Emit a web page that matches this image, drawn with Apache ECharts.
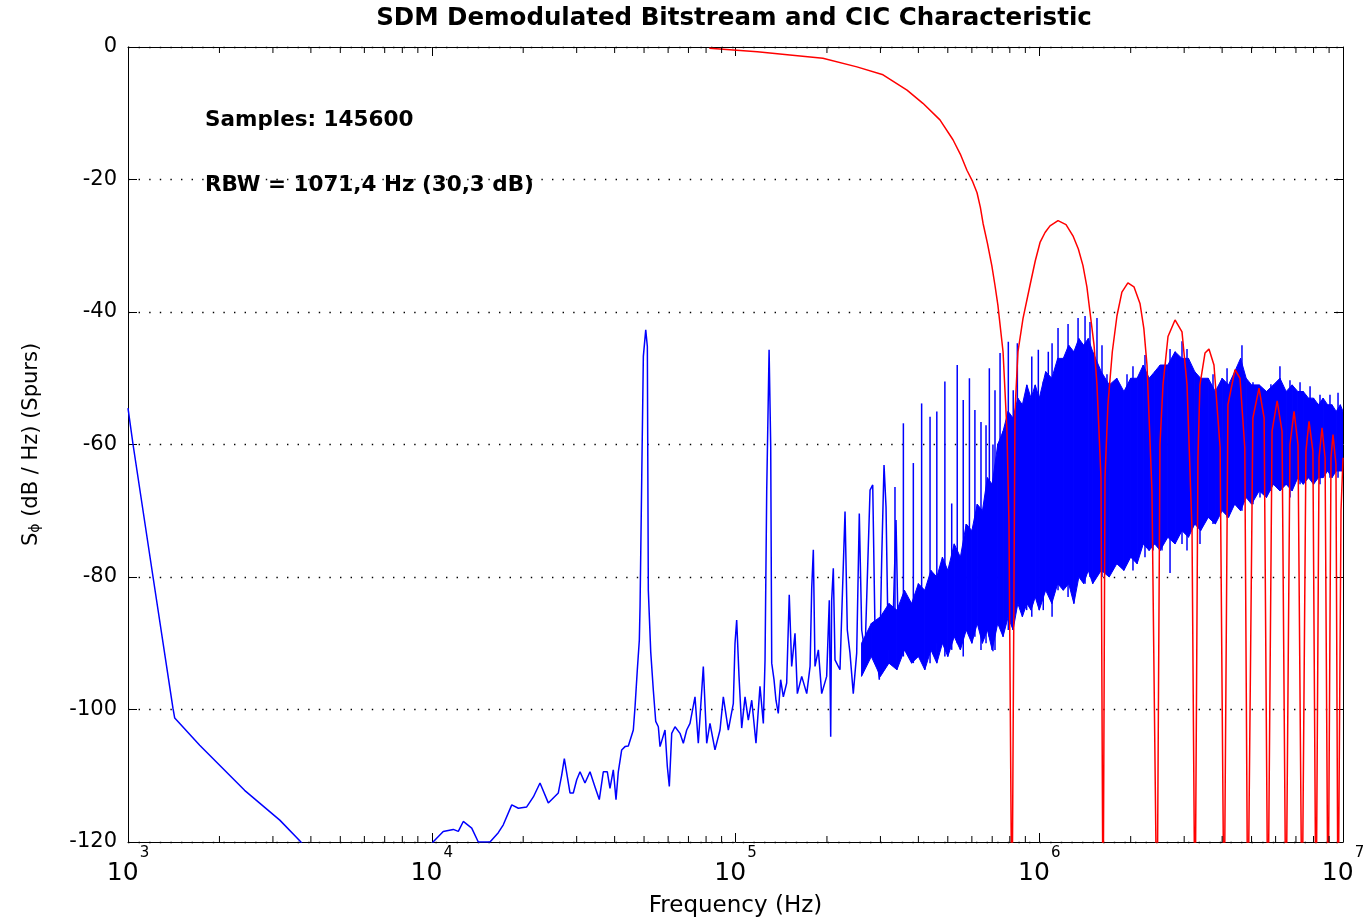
<!DOCTYPE html>
<html><head><meta charset="utf-8">
<script src="https://cdn.jsdelivr.net/npm/echarts@6/dist/echarts.min.js"></script>
<style>html,body{margin:0;padding:0;background:#fff}#c{width:1363px;height:922px}</style>
</head><body><div id="c"></div><script>
// ---- tick labels ----
const xTickValues = [1e3, 1e4, 1e5, 1e6, 1e7];
const xTickExponents = ['3', '4', '5', '6', '7'];
const yTickValues = [-120, -100, -80, -60, -40, -20, 0];
const xMinorTicks = [2e3,3e3,4e3,5e3,6e3,7e3,8e3,9e3,2e4,3e4,4e4,5e4,6e4,7e4,8e4,9e4,
  2e5,3e5,4e5,5e5,6e5,7e5,8e5,9e5,2e6,3e6,4e6,5e6,6e6,7e6,8e6,9e6];
const titleText = 'SDM Demodulated Bitstream and CIC Characteristic';
const noteSamples = 'Samples: 145600';
const noteRBW = 'RBW = 1071,4 Hz (30,3 dB)';

// ---- blue spectrum (sparse part) [Hz, dB] ----
const spectrumLine = [
[1000,-54.5],[1039,-60],[1209,-80],[1406,-99.8],[1425,-101.3],[1722,-105.4],[2420,-112.2],[3160,-116.7],[3710,-120],[4500,-127],[9000,-126],[10100,-120],
[10910,-118.4],[11770,-118.1],[12230,-118.4],[12700,-116.9],[13540,-117.9],[14230,-120],[15550,-120],[16560,-118.6],[17200,-117.4],[18340,-114.4],[19280,-114.9],[20540,-114.7],[21600,-113.2],[22720,-111.1],[24190,-114.1],[26100,-112.6],[26780,-109.9],[27320,-107.4],[27820,-109.6],[28520,-112.6],[29240,-112.6],[30010,-110.6],[30770,-109.4],[31950,-111.1],[33190,-109.4],[34470,-111.7],[35610,-113.6],[36710,-109.4],[37840,-109.4],[38620,-111.9],[39600,-109.1],[40420,-113.6],[41130,-109.4],[42200,-106.1],[43280,-105.6],[44380,-105.5],[46090,-103.1],[46690,-99.6],[47510,-94],[48240,-89.5],[48500,-84.5],[49130,-64.9],[49730,-46.7],[50640,-42.7],[51260,-45.2],[51640,-82],[52590,-91.3],[53640,-97.1],[54620,-101.8],[55710,-102.6],[56430,-105.6],[58610,-103.1],[59640,-108.6],[60550,-111.6],[61660,-103.6],[63220,-102.6],[65660,-103.6],[67330,-105.1],[69080,-103.1],[70830,-102.1],[73570,-98.1],[75430,-105.1],[78350,-93.5],[80390,-105.1],[82410,-102.1],[85600,-106.1],[88920,-103.1],[91180,-98.1],[94700,-103.1],[98350,-99.1],[99630,-90],[100900,-86.5],[102700,-95],[104800,-102.8],[107500,-98.1],[110200,-101.6],[113100,-98.6],[116800,-105.1],[120400,-96.5],[123500,-102.1],[125100,-92.5],[126700,-66.9],[129000,-45.7],[130600,-60.3],[131600,-93],[133900,-95.5],[135900,-98.6],[138300,-100.6],[140800,-95.5],[143700,-98.1],[147400,-96],[150300,-82.7],[153100,-93.5],[157000,-88.5],[159800,-97.6],[165200,-95],[171600,-97.6],[176000,-93.5],[178200,-81.7],[180400,-75.9],[182700,-93.5],[187400,-91],[192200,-97.6],[199600,-95],[203600,-83.5],[205800,-104.1],[207300,-83.5],[209900,-78.7],[212600,-92.5],[220800,-94],[229400,-70.1],[233400,-88],[238200,-91.5],[244200,-97.6],[250600,-91.5],[255600,-70.4],[260300,-88],[266900,-91.5],[277300,-66.9],[283000,-66.1],[288000,-88.5],[297500,-95.5],[302900,-77.4],[308300,-63.1],[313000,-69.4],[318400,-91],[330700,-85.5],[337600,-71.4],[343600,-89.5]
];

// ---- blue spectrum dense noise band [Hz, low dB, high dB] ----
const spectrumBand = [
[2.6e5,-95,-90],[2.8e5,-92,-87],[3.0e5,-95,-86],[3.2e5,-93,-84],[3.4e5,-94,-85],[3.6e5,-91,-82],[3.8e5,-93,-84],[4.0e5,-92,-81],[4.2e5,-94,-82],[4.4e5,-91,-79],[4.6e5,-93,-80],[4.8e5,-90,-77],[5.0e5,-92,-79],[5.25e5,-89,-75],[5.5e5,-91,-77],[5.75e5,-88,-72],[6.0e5,-90,-73],[6.25e5,-87,-69],[6.5e5,-90,-70],[6.75e5,-88,-65],[7.0e5,-91,-66],[7.3e5,-87,-60],[7.6e5,-89,-58],[7.9e5,-86,-55],[8.2e5,-88,-56],[8.5e5,-84,-53],[8.8e5,-86,-54],[9.1e5,-84,-51],[9.4e5,-85,-53],[9.7e5,-83,-51],
[1.0e6,-85,-53],[1.05e6,-82,-49],[1.1e6,-84,-50],[1.15e6,-81,-47],[1.2e6,-82,-47],[1.25e6,-81,-45],[1.3e6,-84,-46],[1.35e6,-80,-44],[1.4e6,-81,-45],[1.45e6,-79,-44],[1.5e6,-81,-46],[1.6e6,-79,-49],[1.7e6,-80,-51],[1.8e6,-78,-50],[1.9e6,-79,-52],[2.0e6,-77,-50],[2.1e6,-78,-50],[2.2e6,-75,-48],[2.3e6,-76,-50],[2.4e6,-75,-49],[2.5e6,-76,-48],[2.65e6,-74,-48],[2.8e6,-75,-46],[2.95e6,-73,-47],[3.1e6,-74,-47],[3.25e6,-72,-49],[3.4e6,-73,-50],[3.6e6,-71,-50],[3.8e6,-72,-52],[4.0e6,-70,-50],[4.2e6,-71,-51],[4.4e6,-69,-49],[4.6e6,-70,-47],[4.8e6,-68,-50],[5.0e6,-69,-51],[5.3e6,-67,-51],[5.6e6,-68,-52],[5.9e6,-66,-51],[6.2e6,-67,-50],[6.5e6,-66,-52],[6.8e6,-67,-51],[7.1e6,-65,-52],[7.4e6,-66,-52],[7.7e6,-65,-53],[8.0e6,-66,-53],[8.3e6,-65,-54],[8.6e6,-65,-53],[8.9e6,-64,-54],[9.2e6,-65,-54],[9.5e6,-64,-55],[9.8e6,-64,-54],[1.0e7,-64,-55]
];

// ---- blue spurs inside the dense region [Hz, top dB, bottom dB] ----
const spectrumSpurs = [
[3.35e5,-66.4,-93],[3.57e5,-56.8,-92],[3.85e5,-62.8,-93],[4.10e5,-53.8,-91],[4.37e5,-55.8,-93],[4.60e5,-55.0,-90],[4.89e5,-50.5,-92],[5.15e5,-68.9,-91],[5.37e5,-48.0,-90],[5.62e5,-53.3,-92],[5.89e5,-50.0,-88],[6.14e5,-54.8,-89],[6.43e5,-56.6,-91],[6.68e5,-57.1,-90],[6.85e5,-48.5,-89],[7.04e5,-60,-91.2],[7.15e5,-51.8,-91],[7.43e5,-46.2,-87],[7.91e5,-44.5,-88],[8.21e5,-51.8,-86],[8.47e5,-44.7,-84],[9.09e5,-51.3,-85],[9.45e5,-46.7,-86],[9.93e5,-45.7,-84],[1.031e6,-50.5,-85],[1.071e6,-46,-81],[1.102e6,-44.7,-86],[1.153e6,-42.4,-82],[1.244e6,-41.8,-83],[1.342e6,-40.9,-80],[1.415e6,-40.6,-81],[1.469e6,-41.5,-80],[1.549e6,-40.9,-79],[1.609e6,-45,-80],[1.671e6,-49.4,-79],[1.803e6,-50.6,-78],[1.945e6,-49.4,-77],[2.035e6,-48.2,-79],[2.229e6,-46.5,-77],[2.369e6,-49.4,-76],[2.536e6,-48.2,-76],[2.695e6,-45.6,-79.4],[2.951e6,-44.4,-75],[3.065e6,-45.6,-76],[3.382e6,-50,-75],[3.733e6,-49.4,-72],[4.152e6,-48.5,-71],[4.649e6,-45,-70],[5.054e6,-50.6,-69],[5.33e6,-51.2,-68],[5.79e6,-50.9,-67],[6.20e6,-48.2,-67],[6.69e6,-50.3,-68],[7.22e6,-50.6,-66],[7.79e6,-51.2,-65],[8.40e6,-52.5,-66],[9.06e6,-52.5,-65],[9.63e6,-52.2,-65]
];

// ---- red CIC characteristic [Hz, dB] ----
const cicResponse = [
[8.2e4,-0.2],[1.18e5,-0.7],[1.51e5,-1.2],[1.94e5,-1.7],[2.51e5,-3.0],[3.06e5,-4.2],[3.67e5,-6.5],[4.14e5,-8.5],[4.71e5,-11],[5.2e5,-14],[5.5e5,-16.2],[5.78e5,-18.6],[6.02e5,-20.2],[6.24e5,-22],[6.4e5,-24.2],[6.53e5,-26.6],[6.75e5,-29.6],[6.98e5,-33],[7.15e5,-36],[7.31e5,-39],[7.6e5,-46],[7.83e5,-58],[7.95e5,-72],[8.13e5,-135],
[8.32e5,-55],[8.51e5,-46],[8.84e5,-41],[9.32e5,-36],[9.7e5,-32.3],[1.006e6,-29.5],[1.045e6,-28],[1.085e6,-27],[1.153e6,-26.2],[1.225e6,-26.8],[1.291e6,-28.5],[1.345e6,-30.5],[1.393e6,-33],[1.435e6,-36.2],[1.469e6,-40],[1.515e6,-45],[1.549e6,-51],[1.597e6,-65],[1.622e6,-135],
[1.646e6,-65],[1.683e6,-54],[1.74e6,-46],[1.802e6,-40.6],[1.871e6,-37],[1.958e6,-35.6],[2.05e6,-36.2],[2.146e6,-38.7],[2.21e6,-42.5],[2.263e6,-48],[2.35e6,-67],[2.442e6,-135],
[2.497e6,-60],[2.555e6,-51],[2.654e6,-43.7],[2.799e6,-41.2],[2.951e6,-43],[3.066e6,-51],[3.184e6,-73],[3.257e6,-135],
[3.33e6,-62],[3.38e6,-51],[3.513e6,-46.2],[3.62e6,-45.6],[3.76e6,-48],[3.94e6,-60.5],[4.06e6,-135],
[4.18e6,-54],[4.41e6,-48.7],[4.58e6,-50],[4.75e6,-60.5],[4.86e6,-135],
[5.05e6,-56],[5.29e6,-51.5],[5.5e6,-56],[5.66e6,-135],
[5.84e6,-58],[6.07e6,-53.4],[6.3e6,-58],[6.49e6,-135],
[6.69e6,-60],[6.9e6,-55],[7.11e6,-60],[7.33e6,-135],
[7.55e6,-61],[7.73e6,-56.5],[7.96e6,-61],[8.15e6,-135],
[8.34e6,-62],[8.53e6,-57.5],[8.73e6,-62],[8.93e6,-135],
[9.13e6,-62],[9.27e6,-58.5],[9.48e6,-63],[9.63e6,-135],
[9.85e6,-70],[1e7,-62]
];

const BLUE = '#0000ff', RED = '#ff0000';
const FONT = '"DejaVu Sans", "Liberation Sans", Arial, sans-serif';

const chart = echarts.init(document.getElementById('c'), null, {renderer: 'canvas'});

function xLabel(v) {
  const i = xTickValues.findIndex(t => Math.abs(Math.log10(t) - Math.log10(v)) < 1e-6);
  if (i < 0) return '';
  return '{b|10}{s|' + xTickExponents[i] + '}';
}

const axisCommonX = {
  type: 'log', logBase: 10, min: xTickValues[0], max: xTickValues[xTickValues.length - 1],
  axisLine: {show: true, onZero: false, lineStyle: {color: '#000', width: 1}},
  axisTick: {show: true, inside: true, length: 9, lineStyle: {color: '#000', width: 1}},
  splitLine: {show: false}, minorTick: {show: false}
};
const axisCommonY = {
  type: 'value', min: yTickValues[0], max: yTickValues[yTickValues.length - 1], interval: 20,
  axisLine: {show: true, onZero: false, lineStyle: {color: '#000', width: 1}},
  axisTick: {show: true, inside: true, length: 9, lineStyle: {color: '#000', width: 1}}
};

chart.setOption({
  animation: false,
  backgroundColor: '#fff',
  grid: {left: 128, right: 20, top: 47, bottom: 80, containLabel: false, outerBoundsMode: 'none'},
  xAxis: [
    Object.assign({}, axisCommonX, {
      position: 'bottom',
      name: 'Frequency (Hz)', nameLocation: 'middle', nameGap: 53,
      nameTextStyle: {fontFamily: FONT, fontSize: 23, color: '#000'},
      axisLabel: {
        show: true, margin: 4, formatter: xLabel, showMinLabel: true, showMaxLabel: true,
        rich: {
          b: {fontFamily: FONT, fontSize: 25, lineHeight: 54, color: '#000'},
          s: {fontFamily: FONT, fontSize: 15, lineHeight: 18, color: '#000', verticalAlign: 'top', padding: [0, 0, 0, 1]}
        }
      }
    }),
    Object.assign({}, axisCommonX, {position: 'top', axisLabel: {show: false}})
  ],
  yAxis: [
    Object.assign({}, axisCommonY, {
      position: 'left',
      name: '{s|S}{sub|ϕ}{s| (dB / Hz) (Spurs)}', nameLocation: 'middle', nameGap: 86, nameRotate: 90,
      nameTextStyle: {
        color: '#000',
        rich: {
          s: {fontFamily: FONT, fontSize: 21, color: '#000'},
          sub: {fontFamily: FONT, fontSize: 14, color: '#000', verticalAlign: 'bottom'}
        }
      },
      axisLabel: {show: true, margin: 11, fontFamily: FONT, fontSize: 21, color: '#000'},
      splitLine: {show: true, lineStyle: {color: '#000', width: 1.4, type: [1.4, 9.2]}}
    }),
    Object.assign({}, axisCommonY, {position: 'right', axisLabel: {show: false}, splitLine: {show: false}})
  ],
  graphic: [
    {type: 'text', x: 734, y: 19, style: {text: titleText, fontFamily: FONT, fontSize: 24.5, fontWeight: 'bold', fill: '#000', textAlign: 'center', textVerticalAlign: 'middle'}},
    {type: 'text', x: 205, y: 120, style: {text: noteSamples, fontFamily: FONT, fontSize: 21.5, fontWeight: 'bold', fill: '#000', textVerticalAlign: 'middle'}},
    {type: 'text', x: 205, y: 185, style: {text: noteRBW, fontFamily: FONT, fontSize: 21.5, fontWeight: 'bold', fill: '#000', textVerticalAlign: 'middle'}}
  ],
  series: [
    {
      name: 'noise band', type: 'custom', xAxisIndex: 0, yAxisIndex: 0, clip: true,
      data: spectrumBand, encode: {x: 0, y: [1, 2]}, z: 2,
      renderItem: function (params, api) {
        const i = params.dataIndex;
        if (i >= spectrumBand.length - 1) return null;
        const a = spectrumBand[i], b = spectrumBand[i + 1];
        const p1 = api.coord([a[0], a[2]]), p2 = api.coord([b[0], b[2]]);
        const p3 = api.coord([b[0], b[1]]), p4 = api.coord([a[0], a[1]]);
        return {type: 'polygon', shape: {points: [p1, p2, p3, p4]}, style: {fill: BLUE, stroke: BLUE, lineWidth: 1}};
      }
    },
    {
      name: 'spurs', type: 'custom', xAxisIndex: 0, yAxisIndex: 0, clip: true,
      data: spectrumSpurs, encode: {x: 0, y: [1, 2]}, z: 3,
      renderItem: function (params, api) {
        const f = api.value(0);
        const pt = api.coord([f, api.value(1)]), pb = api.coord([f, api.value(2)]);
        return {type: 'line', shape: {x1: pt[0], y1: pt[1], x2: pb[0], y2: pb[1]}, style: {stroke: BLUE, lineWidth: 1.5}};
      }
    },
    {
      name: 'spectrum', type: 'line', xAxisIndex: 0, yAxisIndex: 0, data: spectrumLine,
      symbol: 'none', clip: true, z: 4, lineStyle: {color: BLUE, width: 1.5}
    },
    {
      name: 'CIC', type: 'line', xAxisIndex: 0, yAxisIndex: 0, data: cicResponse,
      symbol: 'none', clip: true, z: 5, lineStyle: {color: RED, width: 1.5}
    },
    {
      name: 'minor ticks', type: 'custom', xAxisIndex: 0, yAxisIndex: 0, silent: true, z: 6,
      data: xMinorTicks.map(v => [v, yTickValues[0]]), encode: {x: 0, y: 1},
      renderItem: function (params, api) {
        const f = api.value(0);
        const pb = api.coord([f, yTickValues[0]]), pt = api.coord([f, yTickValues[yTickValues.length - 1]]);
        return {type: 'group', children: [
          {type: 'line', shape: {x1: pb[0], y1: pb[1], x2: pb[0], y2: pb[1] - 6}, style: {stroke: '#000', lineWidth: 1}},
          {type: 'line', shape: {x1: pt[0], y1: pt[1], x2: pt[0], y2: pt[1] + 6}, style: {stroke: '#000', lineWidth: 1}}
        ]};
      }
    }
  ]
});
</script></body></html>
